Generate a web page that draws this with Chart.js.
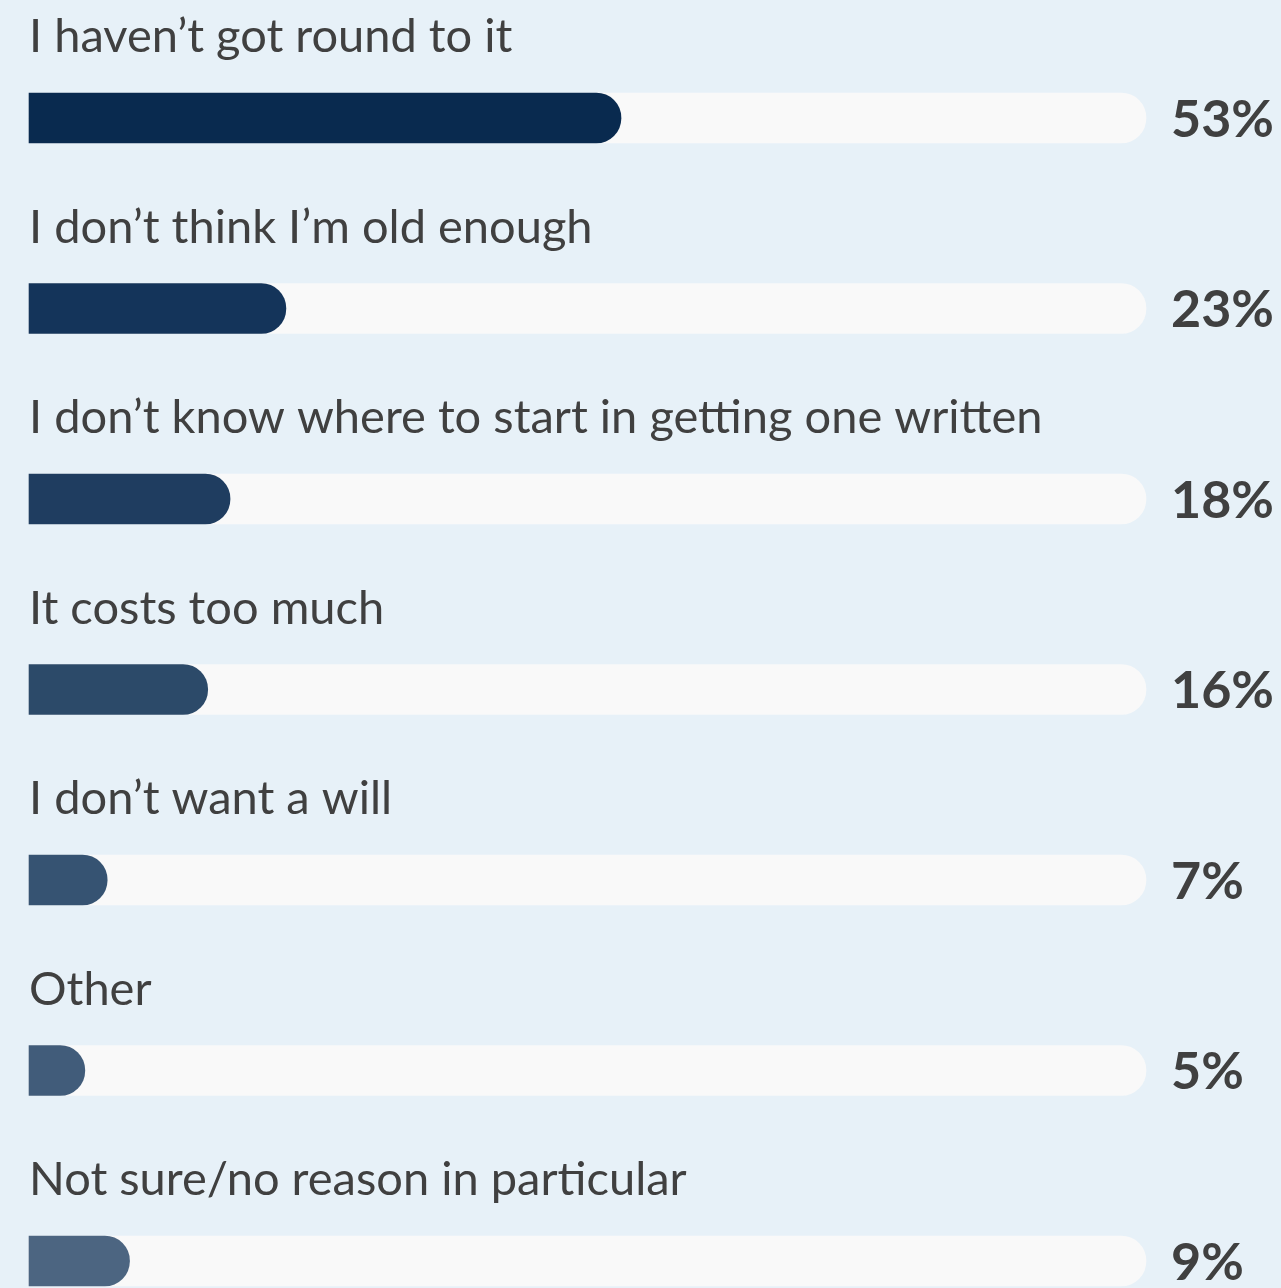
<!DOCTYPE html>
<html>
<head>
<meta charset="utf-8">
<script src="https://cdn.jsdelivr.net/npm/chart.js@4"></script>
<style>
	html, body { margin: 0; padding: 0; background: #e7f1f8; }
	#wrap { width: 1281px; height: 1288px; }
</style>
</head>
<body>
<div id="wrap"><canvas id="reasonChart" width="1281" height="1288"></canvas></div>
<script>
'use strict';

// 항목 / 값
const categories = [
	'I haven\u2019t got round to it',
	'I don\u2019t think I\u2019m old enough',
	'I don\u2019t know where to start in getting one written',
	'It costs too much',
	'I don\u2019t want a will',
	'Other',
	'Not sure/no reason in particular'
];
const values = [53, 23, 18, 16, 7, 5, 9];
const trackValues = [100, 100, 100, 100, 100, 100, 100];
const barColors = ['#092a4f', '#14345a', '#1f3d60', '#2c4a69', '#365372', '#415c7a', '#4c6581'];

const textColor = '#404040';
const fontFamily = 'Lato, "Open Sans", sans-serif';

// 라벨 + 퍼센트 그리기
const labelPlugin = {
	id: 'labelPlugin',
	afterDatasetsDraw(chart) {
		const ctx = chart.ctx;
		const meta = chart.getDatasetMeta(1);
		const xScale = chart.scales.x;
		ctx.save();
		meta.data.forEach((bar, i) => {
			// 위쪽 항목명
			ctx.font = '400 47px ' + fontFamily;
			ctx.fillStyle = textColor;
			ctx.textAlign = 'left';
			ctx.textBaseline = 'alphabetic';
			ctx.fillText(categories[i], xScale.left, bar.y - 66);

			// 오른쪽 퍼센트
			ctx.font = '700 52px ' + fontFamily;
			ctx.textBaseline = 'middle';
			ctx.fillText(values[i] + '%', xScale.getPixelForValue(100) + 25, bar.y + 2);
		});
		ctx.restore();
	}
};

const reason_chart = document.getElementById('reasonChart');

new Chart(reason_chart, {
	type: 'bar',
	data: {
		labels: categories,
		datasets: [{
			label: 'value',
			data: values,
			backgroundColor: barColors,
			borderRadius: 25,
			borderSkipped: 'start',
			barThickness: 50,
			clip: false,
			order: 0
		}, {
			label: 'track',
			data: trackValues,
			backgroundColor: '#f9f9f9',
			borderRadius: 25,
			borderSkipped: 'start',
			barThickness: 50,
			clip: false,
			order: 1
		}]
	},
	options: {
		indexAxis: 'y',
		responsive: false,
		animation: false,
		devicePixelRatio: 1,
		layout: {
			padding: { top: 118, bottom: 27, left: 29, right: 135 }
		},
		plugins: {
			legend: { display: false },
			tooltip: { enabled: false },
			title: { display: false }
		},
		scales: {
			x: {
				display: false,
				min: 0,
				max: 100,
				stacked: false
			},
			y: {
				display: false,
				offset: false,
				stacked: true,
				grid: { display: false }
			}
		}
	},
	plugins: [labelPlugin]
});
</script>
</body>
</html>
